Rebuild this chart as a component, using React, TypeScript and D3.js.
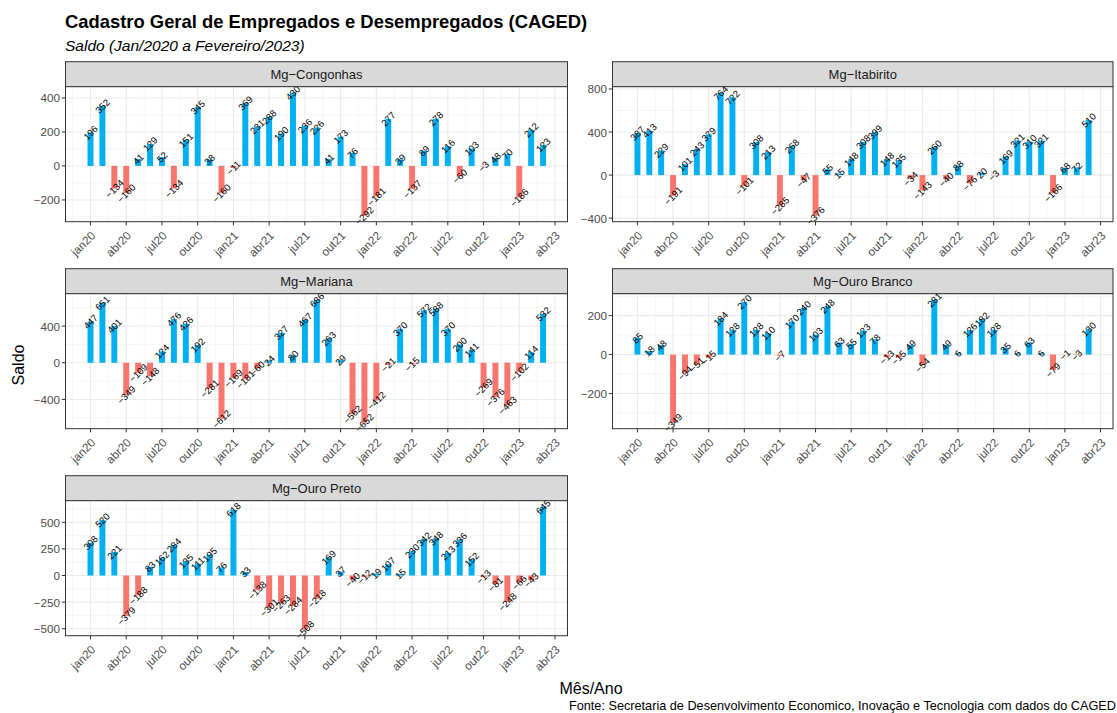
import React from "react";
import * as d3 from "d3";

// ---- Data (jan/2020 .. mar/2023, one value per month) ----
const tickLabels = ["jan20", "abr20", "jul20", "out20", "jan21", "abr21", "jul21", "out21", "jan22", "abr22", "jul22", "out22", "jan23", "abr23"];
const tickMonths = [0, 3, 6, 9, 12, 15, 18, 21, 24, 27, 30, 33, 36, 39];

const congonhas = [196, 352, -134, -160, 41, 129, 52, -134, 151, 345, 38, -160, -11, 369, 231, 288, 190, 430, 236, 226, 41, 173, 76, -292, -181, 277, 39, -137, 89, 278, 116, -60, 103, -3, 48, 70, -186, 212, 123];
const itabirito = [387, 413, 229, -191, 101, 243, 379, 764, 722, -101, 308, 213, -285, 268, -47, -376, 55, 15, 148, 308, 399, 148, 135, -34, -143, 260, -40, 88, -76, 20, -3, 169, 321, 310, 321, -166, 68, 72, 510];
const mariana = [447, 651, 401, -349, -109, -148, 124, 476, 426, 192, -281, -612, -169, -181, -60, 24, 327, 80, 467, 686, 263, 29, -562, -652, -412, -21, 370, -15, 572, 588, 370, 200, 141, -269, -376, -463, -102, 114, 532];
const ouroBranco = [85, 18, 48, -349, -94, -51, -15, 184, 128, 270, 128, 110, -7, 170, 240, 103, 248, 63, 55, 123, 78, -13, -15, 49, -54, 281, 49, 6, 126, 182, 128, 35, 6, 63, 6, -79, -1, -3, 130];
const ouroPreto = [308, 520, 221, -379, -188, 83, 162, 284, 135, 111, 195, 76, 618, 33, -138, -301, -263, -284, -508, -218, 169, 37, -40, -12, 19, 107, 15, 230, 342, 348, 213, 336, 152, -13, -81, -248, -66, -43, 645];

const panelNames = ["Mg\u2212Congonhas", "Mg\u2212Itabirito", "Mg\u2212Mariana", "Mg\u2212Ouro Branco", "Mg\u2212Ouro Preto"];
const panelValues = [congonhas, itabirito, mariana, ouroBranco, ouroPreto];
const panelTicks = [
  [-200, 0, 200, 400],
  [-400, 0, 400, 800],
  [-400, 0, 400],
  [-200, 0, 200],
  [-500, -250, 0, 250, 500],
];

// ---- Layout ----
const W = 1117;
const H = 713;
const cols = [
  { left: 65.5, right: 567.5 },
  { left: 612.5, right: 1113 },
];
const rows = [
  { top: 86.7, bottom: 221.7 },
  { top: 293.7, bottom: 428.7 },
  { top: 500.7, bottom: 635.7 },
];
const STRIP_H = 25;
const POS_COLOR = "#00B0F0";
const NEG_COLOR = "#F8766D";
const FONT = "'Liberation Sans', Arial, Helvetica, sans-serif";
const fmt = (v: number) => (v < 0 ? "\u2212" + Math.abs(v) : String(v));

function Panel({ idx }: { idx: number }) {
  const col = cols[idx % 2];
  const row = rows[Math.floor(idx / 2)];
  const values = panelValues[idx];
  const ticks = panelTicks[idx];

  const x = d3.scaleLinear().domain([-2.1, 40.05]).range([col.left, col.right]);
  const lo = Math.min(0, d3.min(values) as number);
  const hi = Math.max(0, d3.max(values) as number);
  const pad = (hi - lo) * 0.05;
  const y = d3.scaleLinear().domain([lo - pad, hi + pad]).range([row.bottom, row.top]);

  const step = ticks[1] - ticks[0];
  const minorY: number[] = [];
  for (let t = ticks[0] - step / 2; t <= ticks[ticks.length - 1] + step; t += step) {
    if (t >= y.domain()[0] && t <= y.domain()[1]) minorY.push(t);
  }
  const minorX: number[] = [];
  for (let m = -1.5; m <= 40.5; m += 3) {
    if (m >= x.domain()[0] && m <= x.domain()[1]) minorX.push(m);
  }
  const bw = x(0.25) - x(0);

  return (
    <g>
      {/* strip */}
      <rect x={col.left} y={row.top - STRIP_H} width={col.right - col.left} height={STRIP_H} fill="#D9D9D9" stroke="#333333" strokeWidth={1} />
      <text x={(col.left + col.right) / 2} y={row.top - STRIP_H / 2} textAnchor="middle" dominantBaseline="central" fontSize={13} fill="#1A1A1A" fontFamily={FONT}>
        {panelNames[idx]}
      </text>
      {/* panel background */}
      <rect x={col.left} y={row.top} width={col.right - col.left} height={row.bottom - row.top} fill="white" />
      {/* grid */}
      {minorY.map((t) => (
        <line key={"my" + t} x1={col.left} x2={col.right} y1={y(t)} y2={y(t)} stroke="#F0F0F0" strokeWidth={0.6} />
      ))}
      {minorX.map((m) => (
        <line key={"mx" + m} y1={row.top} y2={row.bottom} x1={x(m)} x2={x(m)} stroke="#F0F0F0" strokeWidth={0.6} />
      ))}
      {ticks.map((t) => (
        <line key={"gy" + t} x1={col.left} x2={col.right} y1={y(t)} y2={y(t)} stroke="#EBEBEB" strokeWidth={1.1} />
      ))}
      {tickMonths.map((m) => (
        <line key={"gx" + m} y1={row.top} y2={row.bottom} x1={x(m)} x2={x(m)} stroke="#EBEBEB" strokeWidth={1.1} />
      ))}
      {/* bars */}
      {values.map((v, i) => (
        <rect
          key={"b" + i}
          x={x(i) - bw}
          width={bw * 2}
          y={Math.min(y(v), y(0))}
          height={Math.abs(y(v) - y(0))}
          fill={v >= 0 ? POS_COLOR : NEG_COLOR}
        />
      ))}
      {/* labels */}
      {values.map((v, i) => (
        <text
          key={"l" + i}
          transform={`translate(${x(i)},${y(v)}) rotate(-45)`}
          textAnchor="middle"
          dominantBaseline="central"
          fontSize={9.5}
          fill="#000"
          fontFamily={FONT}
        >
          {fmt(v)}
        </text>
      ))}
      {/* border */}
      <rect x={col.left} y={row.top} width={col.right - col.left} height={row.bottom - row.top} fill="none" stroke="#333333" strokeWidth={1} />
      {/* y axis */}
      {ticks.map((t) => (
        <g key={"yt" + t}>
          <line x1={col.left - 3.7} x2={col.left} y1={y(t)} y2={y(t)} stroke="#333333" strokeWidth={1} />
          <text x={col.left - 5.5} y={y(t)} textAnchor="end" dominantBaseline="central" fontSize={11.7} fill="#4D4D4D" fontFamily={FONT}>
            {fmt(t)}
          </text>
        </g>
      ))}
      {/* x axis */}
      {tickMonths.map((m, k) => (
        <g key={"xt" + m}>
          <line x1={x(m)} x2={x(m)} y1={row.bottom} y2={row.bottom + 3.7} stroke="#333333" strokeWidth={1} />
          <text
            transform={`translate(${x(m) - 0.5},${row.bottom + 8.5}) rotate(-45)`}
            textAnchor="end"
            dy="0.75em"
            fontSize={11.7}
            fill="#4D4D4D"
            fontFamily={FONT}
          >
            {tickLabels[k]}
          </text>
        </g>
      ))}
    </g>
  );
}

export default function App() {
  return (
    <svg width={W} height={H} style={{ position: "absolute", left: 0, top: 0, background: "white" }} fontFamily={FONT}>
      <rect x={0} y={0} width={W} height={H} fill="white" />
      <text x={65} y={28} fontSize={18.4} fontWeight="bold" fill="#000">
        Cadastro Geral de Empregados e Desempregados (CAGED)
      </text>
      <text x={65} y={51} fontSize={15.5} fontStyle="italic" fill="#000">
        Saldo (Jan/2020 a Fevereiro/2023)
      </text>
      {panelValues.map((_, i) => (
        <Panel key={i} idx={i} />
      ))}
      <text transform={`translate(18,365) rotate(-90)`} textAnchor="middle" dominantBaseline="central" fontSize={16} fill="#000">
        Saldo
      </text>
      <text x={591} y={688} textAnchor="middle" dominantBaseline="central" fontSize={16} fill="#000">
        Mês/Ano
      </text>
      <text x={1116} y={706} textAnchor="end" dominantBaseline="central" fontSize={12.7} fill="#000">
        Fonte: Secretaria de Desenvolvimento Economico, Inovação e Tecnologia com dados do CAGED
      </text>
    </svg>
  );
}
